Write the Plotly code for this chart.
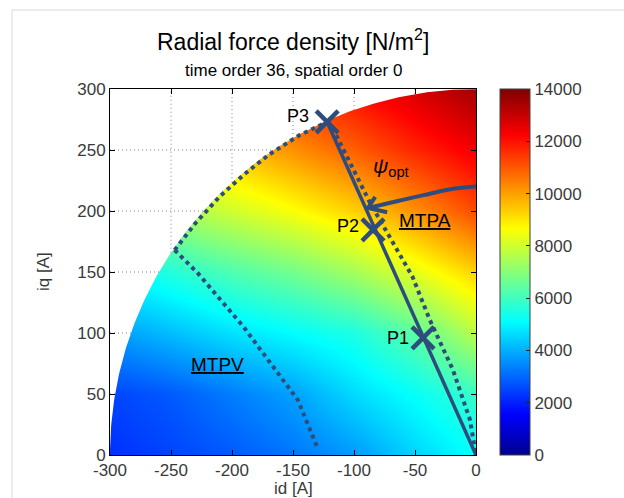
import numpy as np
import plotly.graph_objects as go

# ---------------- data ----------------
id_grid = [-300, -250, -200, -150, -100, -50, 0]
iq_grid = [0, 50, 100, 150, 200, 250, 300]
force = [
    [2200, 2500, 2800, 3200, 3700, 4500, 5200],
    [2500, 2800, 3300, 3800, 4600, 5200, 5900],
    [3700, 4200, 4700, 5100, 5500, 6400, 7700],
    [5000, 5600, 6200, 6700, 7400, 8300, 9300],
    [6800, 7400, 8000, 8600, 9300, 10200, 11200],
    [8200, 8900, 9500, 10200, 10900, 11700, 12400],
    [9500, 10200, 10800, 11500, 12100, 12800, 13500],
]
current_limit = 300  # radius of the operating region [A]

# voltage-limit arc (dotted)
volt_id = [-247, -230, -210, -190, -170, -145, -122]
volt_iq = [168, 190, 212, 230, 246, 262, 273]
# MTPV curve (dotted)
mtpv_id = [-247, -228, -190.5, -146, -130]
mtpv_iq = [168, 149, 105, 45, 6]
# MTPA curve (dotted)
mtpa_id = [-122, -114, -87, -73, -52, -38, -19, -5, 0]
mtpa_iq = [273, 261, 207, 182, 146, 111, 70, 29, 0]
# optimal-angle line (solid)
opt_id = [0, -122]
opt_iq = [0, 273]
# operating points
pt_names = ["P1", "P2", "P3"]
pt_id = [-43.4, -84.4, -122]
pt_iq = [96, 184.5, 273]
# curved arrow psi_opt
arrow_id = [0, -20, -43, -65, -88.5]
arrow_iq = [220, 218, 213, 208, 202.5]
arrowhead_id = [-82.6, -88.5, -72.8]
arrowhead_iq = [211.5, 202.5, 199]

x_ticks = [-300, -250, -200, -150, -100, -50, 0]
x_ticklabels = ["-300", "-250", "-200", "-150", "-100", "-50", "0"]
y_ticks = [0, 50, 100, 150, 200, 250, 300]
y_ticklabels = ["0", "50", "100", "150", "200", "250", "300"]
cbar_ticks = [0, 2000, 4000, 6000, 8000, 10000, 12000, 14000]
cbar_ticklabels = ["0", "2000", "4000", "6000", "8000", "10000", "12000", "14000"]

LINE_C = "#2E4C7C"
FONT = "Liberation Sans, Arial, sans-serif"
TICK_C = "#3a3a3a"

jet = [[0, "rgb(0,0,143)"], [0.111, "rgb(0,0,255)"], [0.365, "rgb(0,255,255)"],
       [0.619, "rgb(255,255,0)"], [0.873, "rgb(255,0,0)"], [1, "rgb(128,0,0)"]]

fig = go.Figure()

fig.add_trace(go.Heatmap(
    x=id_grid, y=iq_grid, z=force, zsmooth="best", colorscale=jet,
    zmin=0, zmax=14000, hoverinfo="skip",
    colorbar=dict(
        thickness=30, thicknessmode="pixels", len=1, lenmode="fraction",
        x=(500 - 110) / 366, xanchor="left", xpad=0, y=0.5, yanchor="middle", ypad=0,
        outlinecolor="#404040", outlinewidth=1,
        tickvals=cbar_ticks, ticktext=cbar_ticklabels, ticks="inside", ticklen=4,
        tickcolor="#202020",
        tickfont=dict(family=FONT, size=17, color=TICK_C),
    ),
))

# white mask outside the circular operating region
theta = np.linspace(np.pi / 2, np.pi, 200)
mask_x = [-310, 10, 10, 0] + list(current_limit * np.cos(theta)) + [-310]
mask_y = [310, 310, 300, 300] + list(current_limit * np.sin(theta)) + [0]
fig.add_trace(go.Scatter(x=mask_x, y=mask_y, fill="toself", fillcolor="white",
                         mode="lines", line=dict(width=0), hoverinfo="skip"))

# dotted grid visible only outside region
gx, gy = [], []
for t in x_ticks[1:-1]:
    gx += [t, t, None]
    gy += [np.sqrt(current_limit**2 - t**2), 300, None]
for t in y_ticks[1:-1]:
    gx += [-300, -np.sqrt(current_limit**2 - t**2), None]
    gy += [t, t, None]
fig.add_trace(go.Scatter(x=gx, y=gy, mode="lines",
                         line=dict(color="#808080", width=1, dash="1px,3px"),
                         hoverinfo="skip"))

dotted = dict(color=LINE_C, width=4, dash="4px,4px")
fig.add_trace(go.Scatter(x=volt_id, y=volt_iq, mode="lines", line=dotted))
fig.add_trace(go.Scatter(x=mtpv_id, y=mtpv_iq, mode="lines", line=dotted))
fig.add_trace(go.Scatter(x=mtpa_id, y=mtpa_iq, mode="lines", line=dotted))
fig.add_trace(go.Scatter(x=opt_id, y=opt_iq, mode="lines",
                         line=dict(color=LINE_C, width=3.5)))
fig.add_trace(go.Scatter(x=arrow_id, y=arrow_iq, mode="lines",
                         line=dict(color=LINE_C, width=4, shape="spline")))
fig.add_trace(go.Scatter(x=arrowhead_id, y=arrowhead_iq, mode="lines",
                         line=dict(color=LINE_C, width=4)))
fig.add_trace(go.Scatter(x=pt_id, y=pt_iq, mode="markers",
                         marker=dict(symbol="x-thin", size=22,
                                     line=dict(color=LINE_C, width=4.5))))

ann = []
label_off = [(-8, 0), (-8, 4), (-12, 6)]
for n, x, y, (dx, dy) in zip(pt_names, pt_id, pt_iq, label_off):
    ann.append(dict(x=x, y=y, text=n, showarrow=False, xanchor="right", yanchor="middle",
                    xshift=dx - 4, yshift=dy, font=dict(family=FONT, size=18, color="black")))
ann.append(dict(x=-69.5, y=236, text="<i>ψ</i><sub>opt</sub>", showarrow=False,
                font=dict(family=FONT, size=21, color="black")))
ann.append(dict(x=-41.7, y=192.6, text="MTPA", showarrow=False,
                font=dict(family=FONT, size=19, color="black", lineposition="under")))
ann.append(dict(x=-211.8, y=74, text="MTPV", showarrow=False,
                font=dict(family=FONT, size=19, color="black", lineposition="under")))
# titles
ann.append(dict(xref="paper", yref="paper", x=0.5, y=(455 - 40) / 366, yanchor="middle",
                text="Radial force density [N/m<sup>2</sup>]", showarrow=False,
                font=dict(family=FONT, size=23, color="black")))
ann.append(dict(xref="paper", yref="paper", x=0.5, y=(455 - 70) / 366, yanchor="middle",
                text="time order 36, spatial order 0", showarrow=False,
                font=dict(family=FONT, size=17, color="black")))
ann.append(dict(xref="paper", yref="paper", x=0.5, y=(455 - 488) / 366, yanchor="middle",
                text="id [A]", showarrow=False,
                font=dict(family=FONT, size=17, color=TICK_C)))
ann.append(dict(xref="paper", yref="paper", x=(43 - 110) / 366, y=0.5, xanchor="center",
                yanchor="middle", textangle=-90, text="iq [A]", showarrow=False,
                font=dict(family=FONT, size=17, color=TICK_C)))

axis_common = dict(showgrid=False, zeroline=False, showline=True, linecolor="black",
                   linewidth=1, mirror="ticks", ticks="inside", ticklen=5,
                   tickcolor="black", tickfont=dict(family=FONT, size=17, color=TICK_C))

fig.update_layout(
    width=624, height=498, showlegend=False,
    margin=dict(l=110, r=148, t=89, b=43),
    paper_bgcolor="white", plot_bgcolor="white",
    xaxis=dict(range=[-300, 0], tickvals=x_ticks, ticktext=x_ticklabels, **axis_common),
    yaxis=dict(range=[0, 300], tickvals=y_ticks, ticktext=y_ticklabels, **axis_common),
    annotations=ann,
    shapes=[dict(type="rect", xref="paper", yref="paper",
                 x0=(12 - 110) / 366, x1=(640 - 110) / 366,
                 y0=(455 - 520) / 366, y1=(455 - 10) / 366,
                 line=dict(color="#d9d9d9", width=1), layer="below")],
)

fig.write_html("out.html")
